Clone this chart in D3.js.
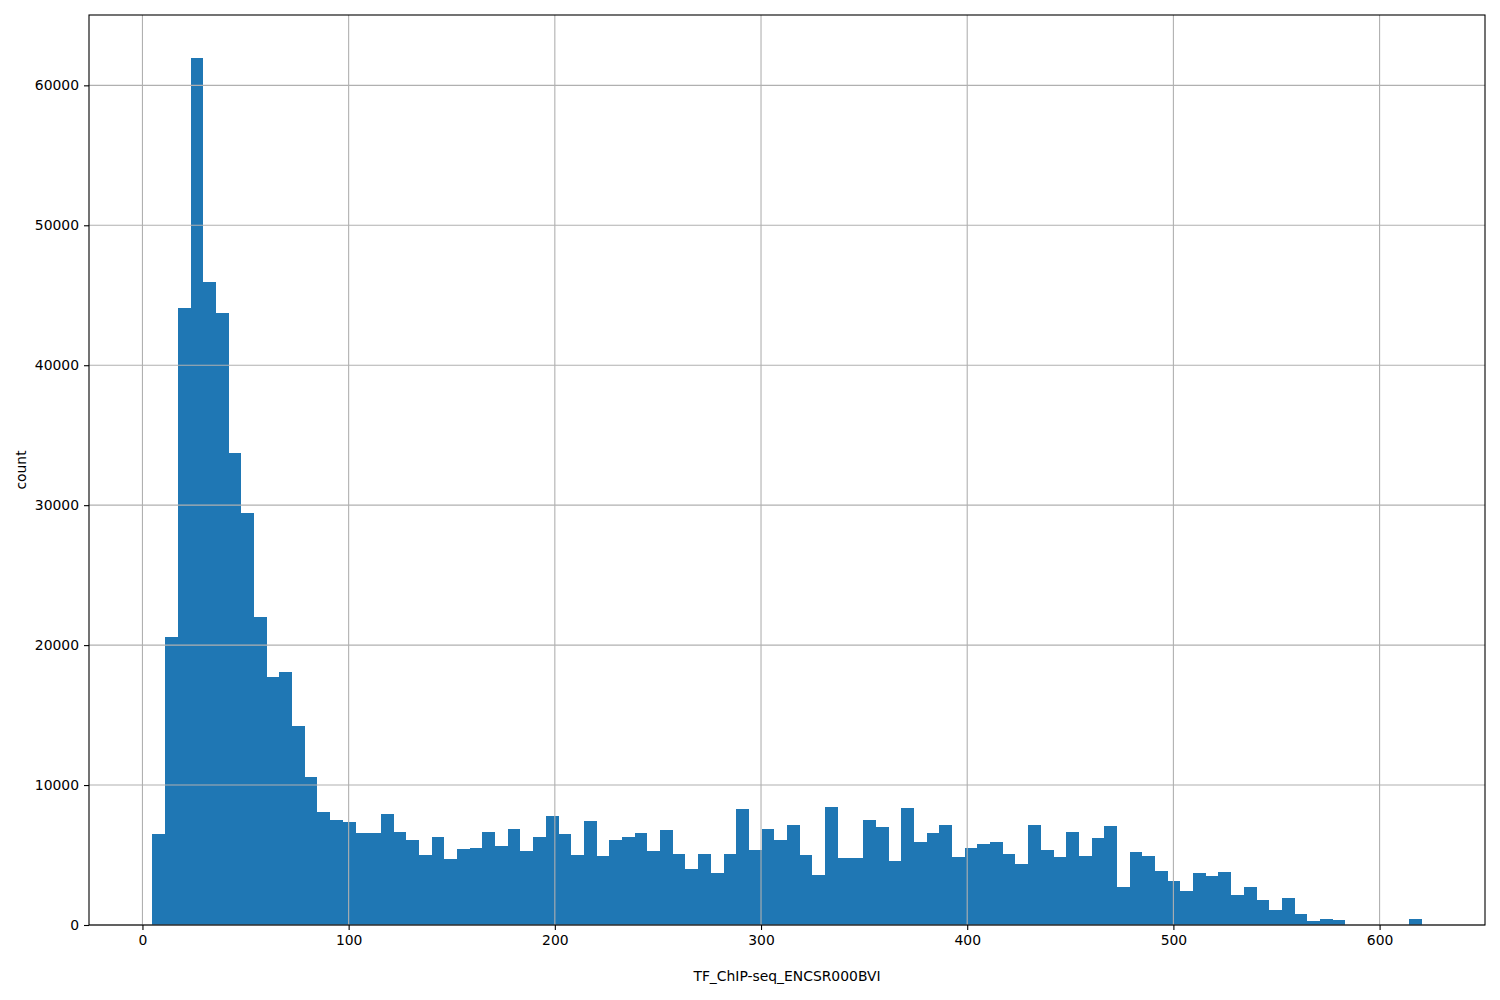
<!DOCTYPE html>
<html>
<head>
<meta charset="utf-8">
<script src="https://cdn.jsdelivr.net/npm/d3@7"></script>
<style>
  body { margin: 0; background: #fff; }
  svg text { font-family: "DejaVu Sans", sans-serif; }
</style>
</head>
<body>
<script>
// histogram settings: 100 bins, first edge and bin width
var binStart = 4.85;
var binWidth = 6.155;

// counts per bin (left to right)
var counts = [
  6500, 20570, 44070, 61930, 45930, 43710, 33710, 29430, 22000, 17710,
  18070, 14210, 10570, 8070, 7500, 7360, 6570, 6570, 7930, 6640,
  6070, 5000, 6290, 4710, 5430, 5500, 6640, 5640, 6860, 5290,
  6290, 7790, 6500, 5000, 7430, 4930, 6070, 6290, 6570, 5290,
  6790, 5070, 4000, 5070, 3710, 5070, 8290, 5360, 6860, 6070,
  7140, 5000, 3570, 8430, 4790, 4790, 7500, 7000, 4570, 8360,
  5930, 6570, 7140, 4860, 5500, 5790, 5930, 5070, 4360, 7140,
  5360, 4860, 6640, 4930, 6210, 7070, 2710, 5210, 4930, 3860,
  3140, 2430, 3710, 3500, 3790, 2140, 2710, 1790, 1070, 1930,
  790, 290, 430, 360, 0, 0, 0, 0, 0, 430
];

var xTicks = [0, 100, 200, 300, 400, 500, 600];
var yTicks = [0, 10000, 20000, 30000, 40000, 50000, 60000];
var xLabel = "TF_ChIP-seq_ENCSR000BVI";
var yLabel = "count";

var bins = counts.map(function(c, i) {
  return { x0: binStart + i * binWidth, x1: binStart + (i + 1) * binWidth, count: c };
});

var margin = {top: 15, right: 15, bottom: 75, left: 89},
    width = 1500 - margin.left - margin.right,
    height = 1000 - margin.top - margin.bottom;

// matplotlib style 5% margins around the data
var lo = binStart, hi = binStart + counts.length * binWidth;
var pad = (hi - lo) * 0.05;
var x = d3.scaleLinear().domain([lo - pad, hi + pad]).range([0, width]);
var y = d3.scaleLinear().domain([0, d3.max(counts) * 1.05]).range([height, 0]);

var svg = d3.select("body").append("svg")
    .attr("width", 1500)
    .attr("height", 1000)
  .append("g")
    .attr("transform", "translate(" + margin.left + "," + margin.top + ")");

// bars
svg.selectAll(".bar")
  .data(bins)
  .enter().append("rect")
    .attr("class", "bar")
    .attr("x", function(d) { return x(d.x0); })
    .attr("width", function(d) { return x(d.x1) - x(d.x0); })
    .attr("y", function(d) { return y(d.count); })
    .attr("height", function(d) { return height - y(d.count); })
    .attr("fill", "#1f77b4")
    .attr("shape-rendering", "crispEdges");

// grid on top of the bars
svg.append("g")
  .selectAll("line")
  .data(xTicks)
  .enter().append("line")
    .attr("x1", function(d) { return x(d); })
    .attr("x2", function(d) { return x(d); })
    .attr("y1", 0)
    .attr("y2", height)
    .attr("stroke", "#b0b0b0")
    .attr("stroke-width", 1.1);

svg.append("g")
  .selectAll("line")
  .data(yTicks)
  .enter().append("line")
    .attr("x1", 0)
    .attr("x2", width)
    .attr("y1", function(d) { return y(d); })
    .attr("y2", function(d) { return y(d); })
    .attr("stroke", "#b0b0b0")
    .attr("stroke-width", 1.1);

// axes
var xAxis = svg.append("g")
  .attr("transform", "translate(0," + height + ")")
  .call(d3.axisBottom(x).tickValues(xTicks).tickFormat(d3.format("d")).tickSize(5).tickPadding(5));

var yAxis = svg.append("g")
  .call(d3.axisLeft(y).tickValues(yTicks).tickFormat(d3.format("d")).tickSize(5).tickPadding(5));

[xAxis, yAxis].forEach(function(a) {
  a.select(".domain").remove();
  a.selectAll("line").attr("stroke", "#000").attr("stroke-width", 1.1);
  a.selectAll("text").attr("font-size", "13.9px").attr("fill", "#000")
    .attr("font-family", "DejaVu Sans");
});

// frame
svg.append("rect")
  .attr("x", 0).attr("y", 0)
  .attr("width", width).attr("height", height)
  .attr("fill", "none")
  .attr("stroke", "#000")
  .attr("stroke-width", 1.1);

// labels
svg.append("text")
  .attr("x", width / 2)
  .attr("y", height + 56)
  .attr("text-anchor", "middle")
  .attr("font-size", "13.9px")
  .text(xLabel);

svg.append("text")
  .attr("transform", "translate(" + (21 - margin.left) + "," + (height / 2) + ") rotate(-90)")
  .attr("text-anchor", "middle")
  .attr("dy", "0.35em")
  .attr("font-size", "13.9px")
  .text(yLabel);
</script>
</body>
</html>
